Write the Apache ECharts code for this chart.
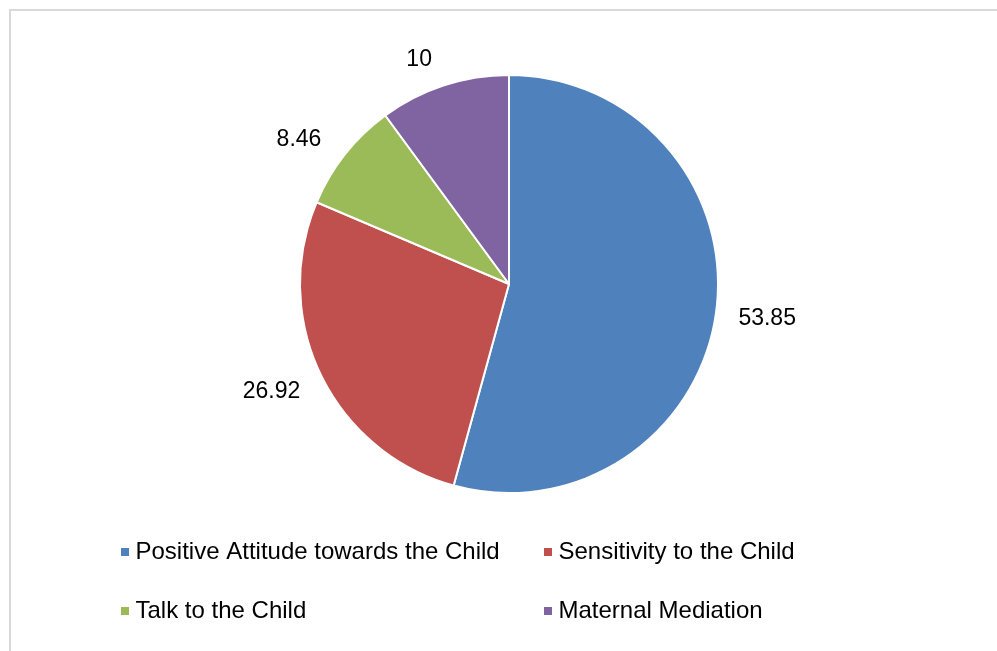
<!DOCTYPE html>
<html>
<head>
<meta charset="utf-8">
<script src="https://cdn.jsdelivr.net/npm/echarts@6/dist/echarts.min.js"></script>
<style>
html,body{margin:0;padding:0;background:#fff;}
#chart{width:997px;height:651px;}
</style>
</head>
<body>
<div id="chart"></div>
<script>
var categories = ['Positive Attitude towards the Child', 'Sensitivity to the Child', 'Talk to the Child', 'Maternal Mediation'];
var values = [53.85, 26.92, 8.46, 10];
var colors = ['#4F81BD', '#C0504D', '#9BBB59', '#8064A2'];
var legendLeftColumn = ['Positive Attitude towards the Child', 'Talk to the Child'];
var legendRightColumn = ['Sensitivity to the Child', 'Maternal Mediation'];
// small nudges of the data labels (style only), in px
var labelTangentNudge = [2, 0, -12, -15];
var labelRadialNudge = [0, 3, 4, -2];

var chart = echarts.init(document.getElementById('chart'), null, {renderer: 'canvas'});
var font = 'Liberation Sans, Arial, sans-serif';
var legendCommon = {
  orient: 'vertical',
  icon: 'path://M0,0H8V8H0Z',
  itemWidth: 11,
  itemHeight: 8,
  itemGap: 35,
  itemStyle: {borderWidth: 0},
  textStyle: {fontFamily: font, fontSize: 24, color: '#000'},
  selectedMode: false
};
chart.setOption({
  animation: false,
  backgroundColor: '#fff',
  color: colors,
  graphic: [{
    type: 'rect',
    shape: {x: 10, y: 10, width: 1100, height: 800},
    style: {fill: 'none', stroke: '#d9d9d9', lineWidth: 2},
    silent: true
  }],
  legend: [
    Object.assign({}, legendCommon, {data: legendLeftColumn, left: 116, top: 535}),
    Object.assign({}, legendCommon, {data: legendRightColumn, left: 539, top: 535})
  ],
  series: [{
    type: 'pie',
    center: [509, 284],
    radius: [0, 209],
    startAngle: 90,
    clockwise: true,
    avoidLabelOverlap: false,
    itemStyle: {borderColor: '#fff', borderWidth: 2},
    label: {
      show: true,
      position: 'outside',
      fontFamily: font,
      fontSize: 23,
      color: '#000',
      formatter: function (p) { return String(p.value); }
    },
    labelLine: {show: true, length: 23, length2: 0, lineStyle: {color: 'rgba(0,0,0,0)', width: 0}},
    labelLayout: function (p) {
      var pts = p.labelLinePoints;
      if (!pts) return {};
      var a = pts[0], b = pts[1];
      var dx = b[0] - a[0], dy = b[1] - a[1];
      var l = Math.sqrt(dx * dx + dy * dy) || 1;
      var ux = dx / l, uy = dy / l;
      var tx = -uy, ty = ux;
      var w = p.labelRect.width, h = p.labelRect.height;
      var tn = labelTangentNudge[p.dataIndex] || 0;
      var rn = labelRadialNudge[p.dataIndex] || 0;
      return {
        x: b[0] + ux * (w / 2 + rn) + tx * tn,
        y: b[1] + uy * (h / 2 + rn) + ty * tn,
        align: 'center',
        verticalAlign: 'middle'
      };
    },
    emphasis: {disabled: true},
    data: categories.map(function (c, i) { return {name: c, value: values[i]}; })
  }]
});
</script>
</body>
</html>
